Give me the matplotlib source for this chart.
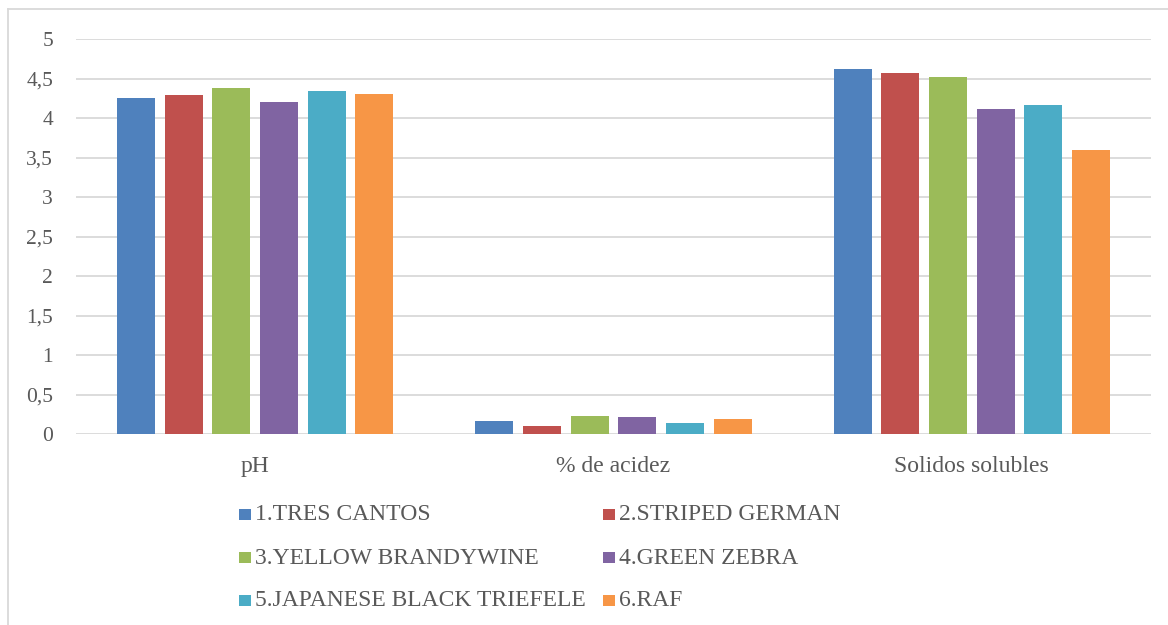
import numpy as np
import matplotlib.pyplot as plt
from matplotlib.patches import Rectangle
from matplotlib.lines import Line2D
from matplotlib.ticker import FuncFormatter

# parámetros medidos por variedad
categorias = ['pH', '% de acidez', 'Solidos solubles']
variedades = ['1.TRES CANTOS', '2.STRIPED GERMAN', '3.YELLOW BRANDYWINE',
              '4.GREEN ZEBRA', '5.JAPANESE BLACK TRIEFELE', '6.RAF']
tres_cantos = [4.25, 0.16, 4.62]
striped_german = [4.29, 0.10, 4.57]
yellow_brandywine = [4.38, 0.23, 4.52]
green_zebra = [4.20, 0.21, 4.12]
japanese_black = [4.34, 0.14, 4.17]
raf = [4.31, 0.19, 3.60]
colores = ['#4F81BD', '#C0504D', '#9BBB59', '#8064A2', '#4BACC6', '#F79646']

series = [tres_cantos, striped_german, yellow_brandywine,
          green_zebra, japanese_black, raf]

gris = '#595959'
plt.rcParams['font.family'] = ['Liberation Serif', 'DejaVu Serif']

fig = plt.figure(figsize=(11.68, 6.25), dpi=100)
ax = fig.add_axes([76 / 1168, 191 / 625, 1075 / 1168, 395 / 625])

x = np.arange(len(categorias))
ancho = 0.106
paso = 0.133
for i, (vals, col) in enumerate(zip(series, colores)):
    ax.bar(x + (i - 2.5) * paso, vals, ancho, color=col, zorder=3)

ax.set_xlim(-0.5, 2.5)
ax.set_ylim(0, 5)
ax.set_yticks(np.arange(0, 5.01, 0.5))
ax.yaxis.set_major_formatter(FuncFormatter(lambda v, p: f'{v:g}'.replace('.', ',')))
ax.set_xticks(x)
ax.set_xticklabels(categorias)
ax.grid(axis='y', color='#d9d9d9', linewidth=1.3, zorder=0)
for s in ax.spines.values():
    s.set_visible(False)
ax.tick_params(axis='y', length=0, pad=16.5, labelsize=15.5, labelcolor=gris)
ax.tick_params(axis='x', length=0, pad=15.5, labelsize=17, labelcolor=gris)

# leyenda en dos columnas
filas_y = [514, 557, 600]
cols_x = [239, 603]
for i, (nombre, col) in enumerate(zip(variedades, colores)):
    cx = cols_x[i % 2]
    cy = filas_y[i // 2]
    fig.patches.append(Rectangle((cx / 1168, 1 - (cy + 6) / 625), 11.5 / 1168, 11.5 / 625,
                                 transform=fig.transFigure, facecolor=col, edgecolor='none'))
    fig.text((cx + 16) / 1168, 1 - (cy + 1) / 625, nombre, fontsize=17, color=gris,
             va='center', ha='left')

# marco del gráfico
fig.lines.append(Line2D([8 / 1168, 1], [1 - 9 / 625, 1 - 9 / 625], transform=fig.transFigure,
                        color='#d9d9d9', linewidth=1.3))
fig.lines.append(Line2D([8 / 1168, 8 / 1168], [0, 1 - 9 / 625], transform=fig.transFigure,
                        color='#d9d9d9', linewidth=1.3))

fig.savefig('out.png', dpi=100)
